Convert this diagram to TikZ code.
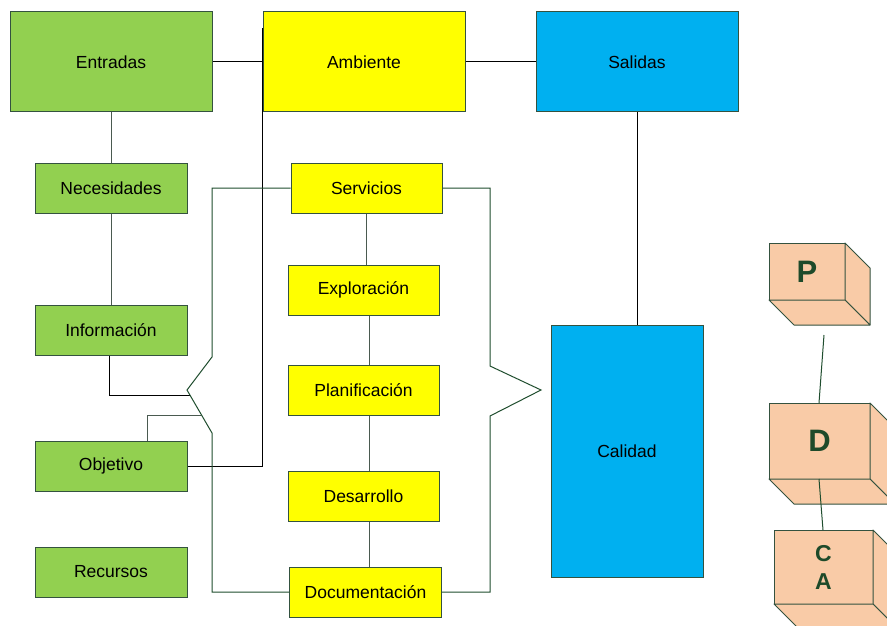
\documentclass[tikz,border=0pt]{standalone}
\usepackage{fontspec}
\setmainfont{Liberation Sans}
\definecolor{cgreen}{HTML}{92D050}
\definecolor{cyellow}{HTML}{FFFF00}
\definecolor{ccyan}{HTML}{00B0F0}
\definecolor{cpeach}{HTML}{F9CBA7}
\definecolor{cborder}{HTML}{34523F}
\definecolor{cbracket}{HTML}{1F4D2E}
\definecolor{cletter}{HTML}{1E4A2A}
\definecolor{cgrayline}{HTML}{4A5A50}
\begin{document}
\begin{tikzpicture}[x=1pt,y=-1pt,
  box/.style={draw=cborder,line width=1pt,rectangle,inner sep=0pt,
    font=\fontsize{17.5}{20}\selectfont},
  gbox/.style={box,fill=cgreen},
  ybox/.style={box,fill=cyellow},
  cbox/.style={box,fill=ccyan},
  conn/.style={draw=black,line width=1pt},
  gconn/.style={draw=cgrayline,line width=1pt},
  brk/.style={draw=cbracket,line width=1pt},
  cubeface/.style={fill=cpeach,draw=cborder,line width=1pt,line join=round},
  letter/.style={text=cletter,font=\bfseries\fontsize{31}{34}\selectfont,inner sep=0pt},
  letters/.style={text=cletter,font=\bfseries\fontsize{23}{27}\selectfont,inner sep=0pt,align=center}
]
\useasboundingbox (0,0) rectangle (887,626);
\fill[white] (0,0) rectangle (887,626);

% top boxes
\node[gbox,minimum width=202pt,minimum height=100pt] (entradas) at (111,62) {Entradas};
\node[ybox,minimum width=202pt,minimum height=100pt] (ambiente) at (364,62) {Ambiente};
\node[cbox,minimum width=202pt,minimum height=100pt] (salidas) at (637,62) {Salidas};

% left column
\node[gbox,minimum width=152pt,minimum height=50pt] (necesidades) at (111,188) {Necesidades};
\node[gbox,minimum width=152pt,minimum height=50pt] (informacion) at (111,330) {Información};
\node[gbox,minimum width=152pt,minimum height=50pt] (objetivo) at (111,466) {Objetivo};
\node[gbox,minimum width=152pt,minimum height=50pt] (recursos) at (111,572) {Recursos};

% middle column
\node[ybox,minimum width=151pt,minimum height=50pt] (servicios) at (366.5,188) {Servicios};
\node[ybox,minimum width=151pt,minimum height=50pt] (exploracion) at (363.5,290) {Exploración};
\node[ybox,minimum width=151pt,minimum height=50pt] (planificacion) at (363.5,390) {Planificación};
\node[ybox,minimum width=151pt,minimum height=50pt] (desarrollo) at (363.5,496) {Desarrollo};
\node[ybox,minimum width=152pt,minimum height=50pt] (documentacion) at (365.5,592) {Documentación};

% calidad
\node[cbox,minimum width=152pt,minimum height=252pt] (calidad) at (627,451) {Calidad};

% coordinates for free ends
\coordinate (ambin) at (262,28);
\coordinate (lbtip) at (187,390);
\coordinate (rbtip) at (541,390);
\coordinate (infoend) at (190,395);
\coordinate (objend) at (201,415);

% connectors
\draw[conn] (entradas.east) -- (ambiente.west);
\draw[conn] (ambiente.east) -- (salidas.east -| salidas.west);
\draw[conn] (salidas.south) -- (salidas.south |- calidad.north);
\draw[gconn] (entradas.south) -- (necesidades.north);
\draw[gconn] (necesidades.south) -- (informacion.north);
\draw[conn] (objetivo.east) -| (ambin);
\draw[conn] ([xshift=-2pt]informacion.south) |- (infoend);
\draw[gconn] ([xshift=36pt]objetivo.north) |- (objend);

\draw[gconn] ([xshift=-0.5pt]servicios.south) -- ([xshift=-0.5pt]servicios.south |- exploracion.north);
\draw[gconn] ([xshift=5.5pt]exploracion.south) -- ([xshift=5.5pt]planificacion.north);
\draw[gconn] ([xshift=5.5pt]planificacion.south) -- ([xshift=5.5pt]desarrollo.north);
\draw[gconn] ([xshift=5.5pt]desarrollo.south) -- ([xshift=3.5pt]documentacion.north);

% brackets
\draw[brk] (servicios.west) -- (212,188) -- (212,357) -- (lbtip) -- (212,433) -- (212,592) -- (documentacion.west);
\draw[brk] (servicios.east) -- (490,188) -- (490,366) -- (rbtip) -- (490,416) -- (490,592) -- (documentacion.east);

% cubes
% P
\draw[cubeface] (769,243) rectangle (845,300);
\draw[cubeface] (845,243) -- (870,268) -- (870,325) -- (845,300) -- cycle;
\draw[cubeface] (769,300) -- (845,300) -- (870,325) -- (794,325) -- cycle;
\node[letter] (p) at (807,271.5) {P};
% D
\draw[cubeface] (769,403) rectangle (870,479);
\draw[cubeface] (870,403) -- (895,428) -- (895,504) -- (870,479) -- cycle;
\draw[cubeface] (769,479) -- (870,479) -- (895,504) -- (794,504) -- cycle;
\node[letter] (d) at (819.5,441) {D};
% CA
\draw[cubeface] (774,530) rectangle (873,604);
\draw[cubeface] (873,530) -- (898,555) -- (898,629) -- (873,604) -- cycle;
\draw[cubeface] (774,604) -- (873,604) -- (898,629) -- (799,629) -- cycle;
\node[letters] (ca) at (823.5,567) {C\\[1pt]A};

\coordinate (pd1) at (824,335);
\coordinate (pd2) at (819,403);
\coordinate (dc1) at (819,479);
\coordinate (dc2) at (823,530);
\draw[brk] (pd1) -- (pd2);
\draw[brk] (dc1) -- (dc2);
\end{tikzpicture}
\end{document}
